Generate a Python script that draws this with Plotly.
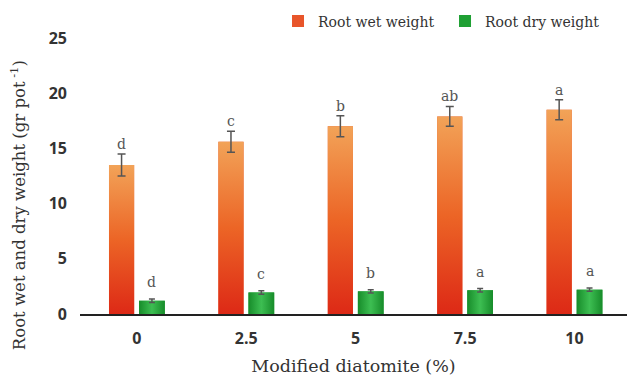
import plotly.graph_objects as go

# Modified diatomite dose levels (%)
doses = ["0", "2.5", "5", "7.5", "10"]

# Root weights (gr pot^-1) with standard errors and mean-separation letters
wet_weight = [13.5, 15.6, 17.0, 17.9, 18.5]
wet_err = [1.0, 0.95, 0.95, 0.9, 0.9]
wet_letters = ["d", "c", "b", "ab", "a"]

dry_weight = [1.2, 1.95, 2.05, 2.15, 2.2]
dry_err = [0.15, 0.15, 0.15, 0.15, 0.15]
dry_letters = ["d", "c", "b", "a", "a"]

y_ticks = [0, 5, 10, 15, 20, 25]

SERIF = "DejaVu Serif"
SANS = "Open Sans"

# bar geometry inside each category slot
WET_OFF, WET_W = -0.255, 0.23
DRY_OFF, DRY_W = 0.02, 0.235

WET_SCALE = [[0, "#DD2916"], [0.5, "#EC6526"], [1, "#F2A358"]]
DRY_SCALE = [[0, "#178C2A"], [0.5, "#3DBE52"], [1, "#178C2A"]]

pos = list(range(len(doses)))

fig = go.Figure()

# solid bars (data marks and legend swatches)
fig.add_trace(go.Bar(
    x=pos, y=wet_weight, offset=WET_OFF, width=WET_W,
    marker=dict(color="#E8552A", line=dict(width=0)),
    name="Root wet weight",
))
fig.add_trace(go.Bar(
    x=pos, y=dry_weight, offset=DRY_OFF, width=DRY_W,
    marker=dict(color="#1FA034", line=dict(width=0)),
    name="Root dry weight",
))


def shaded_bar(i, off, w, val, scale, orient):
    x0, x1 = i + off, i + off + w
    return go.Scatter(
        x=[x0, x1, x1, x0, x0], y=[0, 0, val, val, 0],
        mode="lines", line=dict(width=0), fill="toself",
        fillgradient=dict(type=orient, colorscale=scale),
        showlegend=False, hoverinfo="skip",
    )


# gradient shading on top of each bar
for i, v in enumerate(wet_weight):
    fig.add_trace(shaded_bar(i, WET_OFF, WET_W, v, WET_SCALE, "vertical"))
for i, v in enumerate(dry_weight):
    fig.add_trace(shaded_bar(i, DRY_OFF, DRY_W, v, DRY_SCALE, "horizontal"))

# error bars
fig.add_trace(go.Scatter(
    x=[i + WET_OFF + WET_W / 2 for i in pos], y=wet_weight, mode="markers",
    marker=dict(size=1, opacity=0),
    error_y=dict(type="data", array=wet_err, color="#555555", thickness=1.5, width=4),
    showlegend=False, hoverinfo="skip",
))
fig.add_trace(go.Scatter(
    x=[i + DRY_OFF + DRY_W / 2 for i in pos], y=dry_weight, mode="markers",
    marker=dict(size=1, opacity=0),
    error_y=dict(type="data", array=dry_err, color="#555555", thickness=1.5, width=3),
    showlegend=False, hoverinfo="skip",
))

annotations = []
for i in pos:
    annotations.append(dict(
        x=i + WET_OFF + WET_W / 2, y=wet_weight[i] + wet_err[i], xref="x", yref="y",
        text=wet_letters[i], showarrow=False, yanchor="bottom", yshift=0,
        font=dict(family=SERIF, size=14, color="#555555"),
    ))
    annotations.append(dict(
        x=i + DRY_OFF + DRY_W / 2, y=dry_weight[i] + dry_err[i], xref="x", yref="y",
        text=dry_letters[i], showarrow=False, yanchor="bottom", yshift=7,
        font=dict(family=SERIF, size=14, color="#555555"),
    ))

# y-axis title
annotations.append(dict(
    x=-0.113, y=0.395, xref="paper", yref="paper", showarrow=False,
    xanchor="center", yanchor="middle",
    text="Root wet and dry weight (gr pot<sup> -1</sup>)", textangle=-90,
    font=dict(family=SERIF, size=16.5, color="#333333"),
))

fig.update_layout(
    width=629, height=380,
    margin=dict(l=80, r=2, t=38, b=66, autoexpand=False),
    paper_bgcolor="white", plot_bgcolor="white",
    barmode="overlay",
    showlegend=True,
    legend=dict(
        orientation="h", x=0.362, y=1.06, xanchor="left", yanchor="middle",
        font=dict(family=SERIF, size=14, color="#333333"),
        itemwidth=30, entrywidth=122, entrywidthmode="pixels",
        tracegroupgap=0, itemsizing="constant",
        bgcolor="rgba(0,0,0,0)",
    ),
    xaxis=dict(
        range=[-0.52, 4.48], tickmode="array", tickvals=pos, ticktext=doses,
        showgrid=False, zeroline=False, showline=True, linecolor="#222222", linewidth=1.5,
        ticks="", tickfont=dict(family=SANS, size=16, color="#333333", weight="bold"),
        ticklabelstandoff=9,
        title=dict(text="Modified diatomite (%)", standoff=12,
                   font=dict(family=SERIF, size=17.5, color="#333333")),
    ),
    yaxis=dict(
        range=[0, 25], tickmode="array", tickvals=y_ticks,
        showgrid=False, zeroline=False, showline=False, ticks="",
        tickfont=dict(family=SANS, size=16, color="#333333", weight="bold"),
        ticklabelstandoff=12,
    ),
    annotations=annotations,
)

fig.write_html("out.html")
